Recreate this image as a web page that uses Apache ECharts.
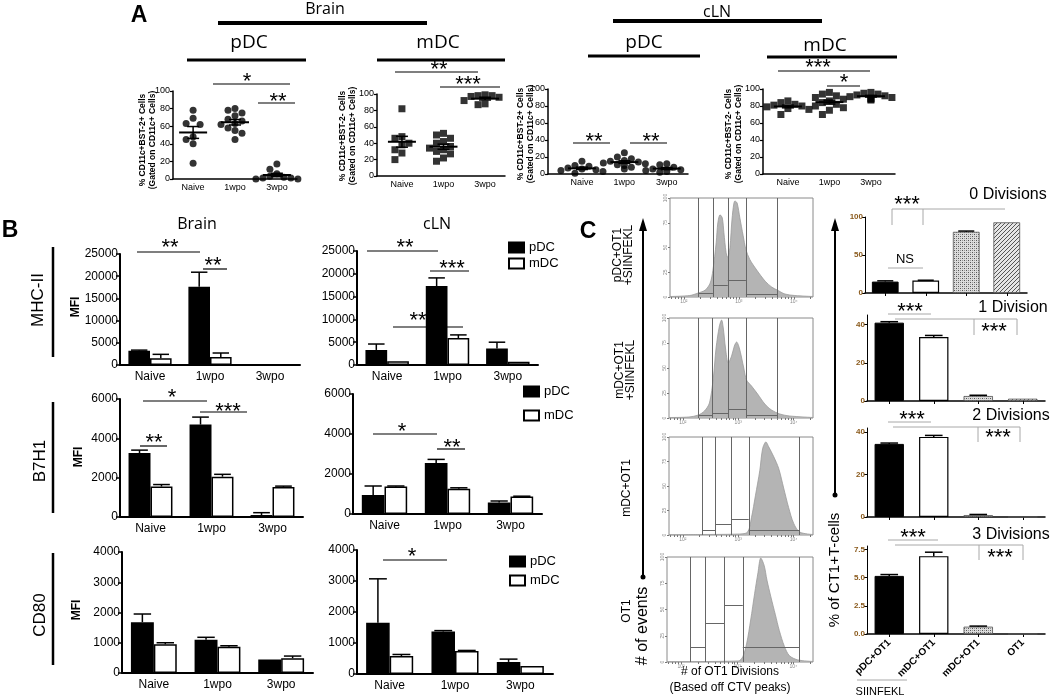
<!DOCTYPE html>
<html><head><meta charset="utf-8">
<script src="https://cdn.jsdelivr.net/npm/echarts@6/dist/echarts.min.js"></script>
<style>html,body{margin:0;padding:0;background:#fff}#c{width:1050px;height:700px}</style>
</head><body><div id="c"></div>
<script>
// ---------------- DATA ----------------
// Panel A: % of cells per animal, groups Naive / 1wpo / 3wpo
const groupsA = ['Naive', '1wpo', '3wpo'];
const aBrainPdc = [[78, 69, 63, 62, 48, 45, 40, 18], [80, 78, 75, 72, 68, 66, 63, 62, 58, 55, 52, 45], [17, 11, 6, 3, 2, 1, 1, 0, 0]];
const aBrainMdc = [[82, 48, 46, 40, 38, 32, 28, 20], [52, 50, 46, 42, 40, 36, 34, 32, 30, 27, 22, 18], [99, 98, 98, 97, 96, 92, 88, 87]];
const aClnPdc = [[15, 10, 9, 7, 6, 5, 4, 3, 1], [25, 20, 18, 16, 15, 14, 13, 12, 11, 10, 8, 6], [12, 11, 8, 6, 5, 4, 3, 2]];
const aClnMdc = [[86, 84, 82, 81, 80, 79, 77, 76, 70], [96, 94, 92, 90, 88, 86, 84, 82, 80, 78, 75, 70], [96, 95, 94, 93, 92, 91, 90, 89, 88, 87]];

// Panel B: MFI (mean, error)
const bCats = ['Naive', '1wpo', '3wpo'];
const bBrainMhcPdc = [3200, 17600, 0], bBrainMhcPdcErr = [150, 3300, 0];
const bBrainMhcMdc = [1500, 1800, 120], bBrainMhcMdcErr = [900, 900, 0];
const bClnMhcPdc = [3300, 17300, 3600], bClnMhcPdcErr = [1300, 1800, 1400];
const bClnMhcMdc = [800, 5900, 700], bClnMhcMdcErr = [0, 700, 0];
const bBrainB7Pdc = [3250, 4700, 100], bBrainB7PdcErr = [150, 380, 120];
const bBrainB7Mdc = [1550, 2050, 1520], bBrainB7MdcErr = [100, 120, 50];
const bClnB7Pdc = [950, 2550, 570], bClnB7PdcErr = [450, 180, 80];
const bClnB7Mdc = [1370, 1260, 870], bClnB7MdcErr = [30, 50, 20];
const bBrainCd80Pdc = [1680, 1100, 450], bBrainCd80PdcErr = [270, 80, 0];
const bBrainCd80Mdc = [950, 870, 490], bBrainCd80MdcErr = [50, 30, 70];
const bClnCd80Pdc = [1650, 1370, 390], bClnCd80PdcErr = [1420, 30, 90];
const bClnCd80Mdc = [580, 740, 260], bClnCd80MdcErr = [50, 20, 0];

// Panel C histograms: x = log10(CTV), y = % of panel max
const histTicks = ['10²', '10³', '10⁴'];
const h1x = [1.75, 2.11, 2.26, 2.39, 2.48, 2.53, 2.59, 2.62, 2.66, 2.70, 2.73, 2.77, 2.80, 2.84, 2.88, 2.93, 2.97, 3.02, 3.08, 3.13, 3.20, 3.33, 3.48, 3.60, 3.70, 3.84, 4.02, 4.35];
const h1y = [0.5, 1.5, 4, 7, 14, 27, 55, 75, 83, 80, 65, 45, 40, 50, 80, 97, 95, 80, 62, 48, 38, 27, 16, 10, 7, 3, 1.5, 0.5];
const h1gates = [2.26, 2.53, 2.80, 3.13, 3.70], h1levels = [4, 12, 17, 3];
const h2x = [1.75, 2.11, 2.28, 2.39, 2.48, 2.55, 2.60, 2.66, 2.70, 2.73, 2.77, 2.82, 2.88, 2.93, 2.97, 3.02, 3.10, 3.15, 3.24, 3.35, 3.48, 3.60, 3.75, 3.93, 4.35];
const h2y = [0.5, 1, 3, 7, 15, 40, 70, 92, 98, 90, 70, 55, 62, 72, 76, 70, 50, 38, 32, 24, 14, 8, 4, 2, 0.5];
const h2gates = [2.28, 2.53, 2.82, 3.15, 3.70], h2levels = [3, 5, 9, 3];
const h3x = [1.75, 2.30, 3.02, 3.17, 3.24, 3.31, 3.39, 3.44, 3.50, 3.55, 3.64, 3.73, 3.82, 3.91, 4.00, 4.11, 4.35];
const h3y = [0.3, 0.5, 1, 3, 18, 40, 66, 88, 95, 90, 80, 68, 48, 28, 12, 3, 0.5];
const h3gates = [2.35, 2.59, 2.88, 3.19, 4.11], h3levels = [5, 11, 16, 5];
const h4x = [1.75, 3.02, 3.10, 3.17, 3.24, 3.31, 3.37, 3.42, 3.48, 3.53, 3.60, 3.68, 3.75, 3.84, 3.93, 4.08, 4.35];
const h4y = [0.3, 1, 5, 18, 40, 65, 85, 99, 92, 78, 62, 45, 30, 15, 6, 2, 0.5];
const h4gates = [2.17, 2.44, 2.77, 3.10, 4.11], h4levels = [14, 37, 54, 14];

// Panel C bars: % of OT1 T cells
const cCats = ['pDC+OT1', 'mDC+OT1', 'mDC+OT1', 'OT1'];
const c0 = [15, 16.5, 80.5, 93], c0err = [1, 0.3, 1, 0];
const c1 = [41, 33.5, 2.6, 1.2], c1err = [0.5, 0.8, 0.4, 0];
const c2 = [34.5, 37.8, 0.9, 0], c2err = [0.4, 0.7, 0.3, 0];
const c3 = [5.15, 6.9, 0.65, 0], c3err = [0.12, 0.35, 0.05, 0];

// ---------------- BUILD ----------------
const FONT = "'Liberation Sans', Arial, sans-serif";
const HFONT = "'Open Sans', sans-serif";
const grid = [], xAxis = [], yAxis = [], series = [];
function addGrid(l, t, w, h, extra) { grid.push(Object.assign({left: l, top: t, width: w, height: h}, extra || {})); return grid.length - 1; }

function swarm(vals, pxPerUnit) {
  const order = vals.map((v, i) => i).sort((a, b) => vals[b] - vals[a]);
  const placed = [], offs = new Array(vals.length).fill(0);
  const cands = [0, -7, 7, -14, 14, -21, 21];
  order.forEach(i => {
    const py = vals[i] * pxPerUnit;
    for (const c of cands) {
      if (placed.every(p => Math.hypot(p[0] - c, p[1] - py) >= 7)) { offs[i] = c; placed.push([c, py]); break; }
    }
  });
  return offs;
}

function panelA(r, groups, shape) {
  const g = addGrid(r.l, r.t, r.w, r.h);
  xAxis.push({type: 'value', gridIndex: g, min: r.min, max: r.max, splitLine: {show: false},
    axisLine: {onZero: false, lineStyle: {color: '#000', width: 1.5}}, axisTick: {show: false},
    axisLabel: {customValues: [0, 1, 2], formatter: v => groupsA[Math.round(v)], fontSize: 9, color: '#000', margin: 4, fontFamily: FONT}});
  yAxis.push({type: 'value', gridIndex: g, min: 0, max: 100, interval: 20, splitLine: {show: false},
    axisLine: {show: true, onZero: false, lineStyle: {color: '#000', width: 1.5}},
    axisTick: {show: true, length: 3, lineStyle: {color: '#000', width: 1.2}},
    axisLabel: {show: true, fontSize: 9, color: '#000', margin: 3, fontFamily: FONT, hideOverlap: false}});
  const pts = [], stats = [];
  groups.forEach((vals, ci) => {
    const offs = swarm(vals, r.h / 100);
    vals.forEach((v, k) => pts.push({value: [ci, v], symbolOffset: [offs[k], 0]}));
    const n = vals.length, m = vals.reduce((a, b) => a + b, 0) / n;
    const sd = Math.sqrt(vals.reduce((a, b) => a + (b - m) * (b - m), 0) / (n - 1));
    stats.push([ci, m, sd / Math.sqrt(n)]);
  });
  series.push({type: 'scatter', xAxisIndex: g, yAxisIndex: g, symbol: shape, symbolSize: 7, clip: false,
    itemStyle: {color: '#000'}, data: pts, silent: true, z: 2});
  series.push({type: 'custom', xAxisIndex: g, yAxisIndex: g, data: stats, silent: true, z: 3,
    renderItem: (p, api) => {
      const x = api.value(0), m = api.value(1), s = api.value(2);
      const c = api.coord([x, m]), hi = api.coord([x, m + s]), lo = api.coord([x, Math.max(0, m - s)]);
      const st = {stroke: '#000', lineWidth: 1.5};
      return {type: 'group', children: [
        {type: 'line', shape: {x1: c[0] - 14, y1: c[1], x2: c[0] + 14, y2: c[1]}, style: {stroke: '#000', lineWidth: 2}},
        {type: 'line', shape: {x1: c[0], y1: lo[1], x2: c[0], y2: hi[1]}, style: st},
        {type: 'line', shape: {x1: c[0] - 6, y1: hi[1], x2: c[0] + 6, y2: hi[1]}, style: st},
        {type: 'line', shape: {x1: c[0] - 6, y1: lo[1], x2: c[0] + 6, y2: lo[1]}, style: st}]};
    }});
}

function errSeries(g, vals, errs, side, frac, capFrac) {
  return {type: 'custom', xAxisIndex: g, yAxisIndex: g, silent: true, z: 4,
    data: vals.map((v, i) => [i, v, errs[i]]),
    renderItem: (p, api) => {
      const i = api.value(0), v = api.value(1), e = api.value(2);
      if (!(e > 0)) return null;
      const band = api.size([1, 0])[0], bw = band * frac;
      const b = api.coord([i, v]), t = api.coord([i, v + e]);
      const x = b[0] + side * bw / 2, cap = bw * capFrac;
      const st = {stroke: '#000', lineWidth: 1.5};
      return {type: 'group', children: [
        {type: 'line', shape: {x1: x, y1: b[1], x2: x, y2: t[1]}, style: st},
        {type: 'line', shape: {x1: x - cap, y1: t[1], x2: x + cap, y2: t[1]}, style: st}]};
    }};
}

function panelB(r, pdc, pdcErr, mdc, mdcErr) {
  const g = addGrid(r.l, r.t, r.w, r.h);
  xAxis.push({type: 'category', gridIndex: g, data: bCats,
    axisLine: {lineStyle: {color: '#000', width: 2}}, axisTick: {show: false},
    axisLabel: {fontSize: 12, color: '#000', margin: 6, fontFamily: FONT}});
  yAxis.push({type: 'value', gridIndex: g, min: 0, max: r.max, interval: r.int, splitLine: {show: false},
    axisLine: {show: true, onZero: false, lineStyle: {color: '#000', width: 2}},
    axisTick: {show: true, length: 4, lineStyle: {color: '#000', width: 1.5}},
    axisLabel: {fontSize: 12, color: '#000', margin: 2, fontFamily: FONT, formatter: v => String(v)}});
  series.push({type: 'bar', name: 'pDC', xAxisIndex: g, yAxisIndex: g, barWidth: '36%', barGap: '0%',
    itemStyle: {color: '#000', borderColor: '#000', borderWidth: 1.5}, data: pdc, silent: true});
  series.push({type: 'bar', name: 'mDC', xAxisIndex: g, yAxisIndex: g, barWidth: '36%', barGap: '0%',
    itemStyle: {color: '#fff', borderColor: '#000', borderWidth: 1.5}, data: mdc, silent: true});
  series.push(errSeries(g, pdc, pdcErr, -1, 0.36, 0.38));
  series.push(errSeries(g, mdc, mdcErr, 1, 0.36, 0.38));
}

const minorLog = [];
[1, 2, 3, 4].forEach(n => { for (let k = 1; k <= 9; k++) { const v = n + Math.log10(k); if (v >= 1.75 && v <= 4.35) minorLog.push(v); } });

function panelH(r, xs, ys, gates, levels) {
  const g = addGrid(r.l, r.t, r.w, r.h, {show: true, borderColor: '#8a8a8a', borderWidth: 1, backgroundColor: '#fff'});
  xAxis.push({type: 'value', gridIndex: g, min: 1.75, max: 4.35, splitLine: {show: false}, axisLine: {show: false, onZero: false},
    axisTick: {show: true, customValues: minorLog, length: 2, lineStyle: {color: '#777'}},
    axisLabel: {customValues: [2, 3, 4], formatter: v => histTicks[Math.round(v) - 2], fontSize: 5, color: '#888', margin: 2}});
  yAxis.push({type: 'value', gridIndex: g, min: 0, max: 100, interval: 25, splitLine: {show: false}, axisLine: {show: false, onZero: false},
    axisTick: {show: true, length: 2, lineStyle: {color: '#777'}},
    axisLabel: {fontSize: 5, color: '#888', margin: 2, rotate: 90}});
  const ml = gates.map(x => ({xAxis: x}));
  levels.forEach((lv, k) => ml.push([{coord: [gates[k], lv]}, {coord: [gates[k + 1], lv]}]));
  series.push({type: 'line', xAxisIndex: g, yAxisIndex: g, data: xs.map((x, i) => [x, ys[i]]), smooth: 0.3,
    symbol: 'none', silent: true, lineStyle: {color: '#9a9a9a', width: 0.8}, areaStyle: {color: '#b4b4b4', opacity: 1},
    markLine: {silent: true, symbol: ['none', 'none'], label: {show: false}, animation: false,
      lineStyle: {color: '#666', width: 1, type: 'solid'}, emphasis: {disabled: true}, data: ml}});
}

function makePattern(draw) {
  const c = document.createElement('canvas'); c.width = 4; c.height = 4;
  draw(c.getContext('2d')); return {image: c, repeat: 'repeat'};
}
const checker = makePattern(ctx => {
  ctx.fillStyle = '#dcdcdc'; ctx.fillRect(0, 0, 4, 4);
  ctx.fillStyle = '#555'; ctx.fillRect(0, 0, 1, 1); ctx.fillRect(2, 2, 1, 1);
  ctx.fillStyle = '#999'; ctx.fillRect(2, 0, 1, 1); ctx.fillRect(0, 2, 1, 1);
});
const hatch = makePattern(ctx => {
  ctx.fillStyle = '#e6e6e6'; ctx.fillRect(0, 0, 4, 4);
  ctx.strokeStyle = '#555'; ctx.lineWidth = 1; ctx.beginPath();
  ctx.moveTo(0, 4); ctx.lineTo(4, 0); ctx.moveTo(-1, 1); ctx.lineTo(1, -1); ctx.moveTo(3, 5); ctx.lineTo(5, 3); ctx.stroke();
});
const cStyles = [{color: '#000', borderColor: '#000', borderWidth: 1},
  {color: '#fff', borderColor: '#000', borderWidth: 1.2},
  {color: checker, borderColor: '#555', borderWidth: 0.8},
  {color: hatch, borderColor: '#555', borderWidth: 0.8}];

function panelC(r, vals, errs, dec, showX) {
  const g = addGrid(r.l, r.t, r.w, r.h);
  xAxis.push({type: 'category', gridIndex: g, data: cCats,
    axisLine: {lineStyle: {color: '#000', width: 1.5}},
    axisTick: {show: true, alignWithLabel: true, length: 3, lineStyle: {color: '#000'}},
    axisLabel: {show: showX, interval: 0, rotate: 45, fontSize: 10, fontWeight: 'bold', color: '#000', margin: 7, fontFamily: FONT}});
  yAxis.push({type: 'value', gridIndex: g, min: 0, max: r.max, interval: r.int, splitLine: {show: false},
    axisLine: {show: true, onZero: false, lineStyle: {color: '#000', width: 1}},
    axisTick: {show: true, length: 3, lineStyle: {color: '#000'}},
    axisLabel: {fontSize: 8, fontWeight: 'bold', color: '#8a5a1c', margin: 2, fontFamily: FONT,
      showMaxLabel: Number.isInteger(r.max / r.int), formatter: v => v.toFixed(dec)}});
  series.push({type: 'bar', xAxisIndex: g, yAxisIndex: g, barWidth: '66%', silent: true,
    data: vals.map((v, i) => ({value: v, itemStyle: cStyles[i]}))});
  series.push(errSeries(g, vals, errs, 0, 0.66, 0.3));
}

// Panel A
panelA({l: 173, t: 91, w: 124, h: 88, min: -0.48, max: 2.48}, aBrainPdc, 'circle');
panelA({l: 377, t: 94, w: 128, h: 82, min: -0.6, max: 2.48}, aBrainMdc, 'rect');
panelA({l: 548, t: 89, w: 140, h: 85, min: -0.8, max: 2.5}, aClnPdc, 'circle');
panelA({l: 763, t: 89, w: 132, h: 85, min: -0.6, max: 2.58}, aClnMdc, 'rect');
// Panel B
panelB({l: 120, t: 254, w: 180, h: 111, max: 25000, int: 5000}, bBrainMhcPdc, bBrainMhcPdcErr, bBrainMhcMdc, bBrainMhcMdcErr);
panelB({l: 357, t: 251, w: 181, h: 114, max: 25000, int: 5000}, bClnMhcPdc, bClnMhcPdcErr, bClnMhcMdc, bClnMhcMdcErr);
panelB({l: 120, t: 399, w: 183, h: 118, max: 6000, int: 2000}, bBrainB7Pdc, bBrainB7PdcErr, bBrainB7Mdc, bBrainB7MdcErr);
panelB({l: 353, t: 394, w: 189, h: 120, max: 6000, int: 2000}, bClnB7Pdc, bClnB7PdcErr, bClnB7Mdc, bClnB7MdcErr);
panelB({l: 122, t: 552, w: 191, h: 121, max: 4000, int: 1000}, bBrainCd80Pdc, bBrainCd80PdcErr, bBrainCd80Mdc, bBrainCd80MdcErr);
panelB({l: 357, t: 550, w: 196, h: 124, max: 4000, int: 1000}, bClnCd80Pdc, bClnCd80PdcErr, bClnCd80Mdc, bClnCd80MdcErr);
// Panel C histograms
panelH({l: 670, t: 198, w: 143, h: 99}, h1x, h1y, h1gates, h1levels);
panelH({l: 669, t: 318, w: 144, h: 100}, h2x, h2y, h2gates, h2levels);
panelH({l: 669, t: 437, w: 144, h: 98}, h3x, h3y, h3gates, h3levels);
panelH({l: 667, t: 557, w: 146, h: 105}, h4x, h4y, h4gates, h4levels);
// Panel C bars
panelC({l: 865, t: 217, w: 162, h: 76, max: 100, int: 50}, c0, c0err, 0, false);
panelC({l: 867, t: 315, w: 178, h: 86, max: 45, int: 20}, c1, c1err, 0, false);
panelC({l: 867, t: 428, w: 178, h: 89, max: 42, int: 20}, c2, c2err, 0, false);
panelC({l: 867, t: 546, w: 178, h: 88, max: 7.8, int: 2.5}, c3, c3err, 1, true);

// ---------------- ANNOTATIONS ----------------
const R = Math.PI / 2;
function T(x, y, text, size, o) {
  o = o || {};
  return {type: 'text', x: x, y: y, rotation: o.rot || 0, silent: true, z: 10,
    style: {text: text, x: 0, y: 0, align: 'center', verticalAlign: 'middle', fontSize: size,
      fontFamily: o.font || FONT, fontWeight: o.bold ? 'bold' : 'normal', fill: o.color || '#000'}};
}
function L(x1, y1, x2, y2, w, c) {
  return {type: 'line', silent: true, z: 10, shape: {x1: x1, y1: y1, x2: x2, y2: y2}, style: {stroke: c || '#000', lineWidth: w || 1.2}};
}
const STAR = 22, GR = '#a8a8a8', YL = 8.5;
const els = [
  // Panel A
  T(139, 16, 'A', 23, {bold: true}),
  T(325, 9, 'Brain', 16, {font: HFONT}), L(218, 23, 427, 23, 4),
  T(249, 43, 'pDC', 19, {font: HFONT}), L(187, 60, 306, 60, 3),
  T(438, 43, 'mDC', 19, {font: HFONT}), L(377, 60, 505, 60, 3),
  T(717, 12, 'cLN', 16, {font: HFONT}), L(613, 21, 822, 21, 4),
  T(644, 43, 'pDC', 19, {font: HFONT}), L(588, 56, 700, 56, 3),
  T(825, 46, 'mDC', 19, {font: HFONT}), L(767, 57, 897, 57, 3),
  T(247, 82, '*', STAR), L(213, 84, 290, 84),
  T(278, 102, '**', STAR), L(258, 103, 295, 103),
  T(439, 70, '**', STAR), L(395, 72, 478, 72),
  T(468, 85, '***', STAR), L(440, 87, 500, 87),
  T(594, 142, '**', STAR), L(573, 143, 610, 143),
  T(651, 142, '**', STAR), L(630, 143, 667, 143),
  T(818, 68, '***', STAR), L(778, 71, 870, 71),
  T(844, 83, '*', STAR), L(827, 86, 860, 86),
  T(143, 140, '% CD11c+BST-2+ Cells', YL, {rot: R, bold: true}), T(153, 140, '(Gated on CD11c+ Cells)', YL, {rot: R, bold: true}),
  T(343, 136, '% CD11c+BST-2- Cells', YL, {rot: R, bold: true}), T(353, 136, '(Gated on CD11c+ Cells)', YL, {rot: R, bold: true}),
  T(521, 134, '% CD11c+BST-2+ Cells', YL, {rot: R, bold: true}), T(531, 134, '(Gated on CD11c+ Cells)', YL, {rot: R, bold: true}),
  T(729, 134, '% CD11c+BST-2- Cells', YL, {rot: R, bold: true}), T(739, 134, '(Gated on CD11c+ Cells)', YL, {rot: R, bold: true}),
  // Panel B
  T(10, 231, 'B', 23, {bold: true}),
  T(197, 224, 'Brain', 16, {font: HFONT}), T(437, 224, 'cLN', 16, {font: HFONT}),
  T(38, 300, 'MHC-II', 17, {rot: R}), L(53, 247, 53, 357, 2.5),
  T(40, 461, 'B7H1', 17, {rot: R}), L(53, 402, 53, 513, 2.5),
  T(40, 615, 'CD80', 17, {rot: R}), L(53, 553, 53, 665, 2.5),
  T(76, 307, 'MFI', 12, {rot: R, bold: true}), T(79, 457, 'MFI', 12, {rot: R, bold: true}), T(77, 610, 'MFI', 12, {rot: R, bold: true}),
  T(170, 248, '**', STAR), L(137, 252, 200, 252),
  T(213, 266, '**', STAR), L(203, 269, 227, 269),
  T(405, 248, '**', STAR), L(367, 251, 438, 251),
  T(452, 269, '***', STAR), L(430, 271, 469, 271),
  T(418, 321, '**', STAR), L(393, 327, 463, 327),
  T(172, 398, '*', STAR), L(143, 401, 207, 401),
  T(228, 412, '***', STAR), L(200, 412, 247, 412),
  T(154, 443, '**', STAR), L(140, 446, 167, 446),
  T(402, 432, '*', STAR), L(373, 434, 437, 434),
  T(452, 448, '**', STAR), L(437, 449, 465, 449),
  T(412, 557, '*', STAR), L(383, 560, 447, 560),
  // Panel C
  T(588, 232, 'C', 23, {bold: true}),
  T(618, 255, 'pDC+OT1', 12, {rot: R}), T(629, 255, '+SIINFEKL', 12, {rot: R}),
  T(620, 370, 'mDC+OT1', 12, {rot: R}), T(631, 370, '+SIINFEKL', 12, {rot: R}),
  T(627, 488, 'mDC+OT1', 12, {rot: R}),
  T(627, 611, 'OT1', 12, {rot: R}),
  T(643, 626, '# of events', 16, {rot: R}),
  L(643, 228, 643, 577, 2),
  {type: 'polygon', silent: true, z: 10, shape: {points: [[643, 218], [639, 231], [647, 231]]}, style: {fill: '#000'}},
  {type: 'circle', silent: true, z: 10, shape: {cx: 643, cy: 577, r: 2.5}, style: {fill: '#000'}},
  T(730, 672, '# of OT1 Divisions', 12), T(730, 688, '(Based off CTV peaks)', 12),
  L(835, 228, 835, 495, 2),
  {type: 'polygon', silent: true, z: 10, shape: {points: [[835, 218], [831, 231], [839, 231]]}, style: {fill: '#000'}},
  {type: 'circle', silent: true, z: 10, shape: {cx: 835, cy: 495, r: 2.5}, style: {fill: '#000'}},
  T(835, 570, '% of CT1+T-cells', 15, {rot: R}),
  T(1008, 195, '0 Divisions', 16), T(1013, 308, '1 Division', 16), T(1011, 416, '2 Divisions', 16), T(1011, 535, '3 Divisions', 16),
  T(907, 205, '***', STAR), L(892, 209, 1005, 209, 1, GR), L(892, 209, 892, 225, 1, GR), L(923, 209, 923, 225, 1, GR),
  T(905, 259, 'NS', 13), L(888, 268, 923, 268, 1, GR),
  T(910, 312, '***', STAR), L(888, 314, 931, 314, 1, GR),
  L(895, 319, 1017, 319, 1, GR), L(974, 319, 974, 335, 1, GR), L(1017, 319, 1017, 335, 1, GR), T(994, 332, '***', STAR),
  T(912, 420, '***', STAR), L(888, 422, 931, 422, 1, GR),
  L(893, 427, 1020, 427, 1, GR), L(978, 427, 978, 442, 1, GR), L(1020, 427, 1020, 442, 1, GR), T(998, 438, '***', STAR),
  T(913, 538, '***', STAR), L(888, 540, 938, 540, 1, GR),
  L(895, 545, 1023, 545, 1, GR), L(979, 545, 979, 560, 1, GR), L(1023, 545, 1023, 560, 1, GR), T(1000, 558, '***', STAR),
  T(880, 692, 'SIINFEKL', 11), L(857, 680, 907, 680, 1, GR)
];

const legendBase = {orient: 'vertical', data: ['pDC', 'mDC'], itemWidth: 15, itemHeight: 10, padding: 0, selectedMode: false,
  icon: 'rect', textStyle: {fontSize: 13, color: '#000', fontFamily: FONT}};
const chart = echarts.init(document.getElementById('c'), null, {renderer: 'canvas'});
chart.setOption({
  animation: false,
  backgroundColor: '#fff',
  textStyle: {fontFamily: FONT},
  grid: grid, xAxis: xAxis, yAxis: yAxis, series: series,
  legend: [
    Object.assign({}, legendBase, {left: 508, top: 241, itemGap: 3}),
    Object.assign({}, legendBase, {left: 523, top: 385, itemGap: 11}),
    Object.assign({}, legendBase, {left: 509, top: 555, itemGap: 6})
  ],
  graphic: {elements: els}
});
</script></body></html>
